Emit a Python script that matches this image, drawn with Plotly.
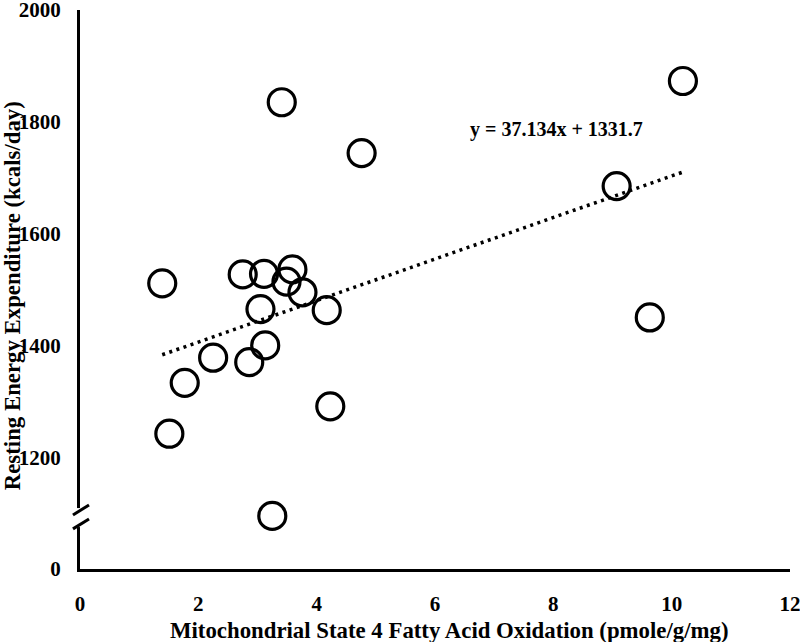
import plotly.graph_objects as go

# --- Data ---
fao = [1.39, 1.51, 1.77, 2.25, 2.75, 2.86, 3.05, 3.11, 3.13, 3.25,
       3.41, 3.49, 3.59, 3.76, 4.17, 4.23, 4.76, 9.07, 9.63, 10.19]
ree = [1511, 1242, 1333, 1378, 1527, 1370, 1465, 1528, 1400, 1095,
       1835, 1514, 1536, 1495, 1463, 1291, 1744, 1685, 1450, 1873]

slope, intercept = 37.134, 1331.7

x_ticks = [0, 2, 4, 6, 8, 10, 12]
y_tickvals = [1000, 1200, 1400, 1600, 1800, 2000]
y_ticktext = ["0", "1200", "1400", "1600", "1800", "2000"]

FONT = "Liberation Serif"

fig = go.Figure()

# trendline over the data range
x_fit = [min(fao), max(fao)]
y_fit = [slope * v + intercept for v in x_fit]
fig.add_trace(go.Scatter(
    x=x_fit, y=y_fit, mode="lines",
    line=dict(color="black", width=3.5, dash="3px,4.5px"),
    hoverinfo="skip", showlegend=False
))

fig.add_trace(go.Scatter(
    x=fao, y=ree, mode="markers",
    marker=dict(symbol="circle-open", size=27, color="black",
                line=dict(width=3.2, color="black")),
    showlegend=False
))

fig.add_annotation(
    x=8.06, y=1786, text=f"<b>y = {slope}x + {intercept}</b>",
    showarrow=False, font=dict(family=FONT, size=20, color="black")
)

# axis titles as annotations (exact placement)
fig.add_annotation(
    xref="paper", yref="paper", x=0.521, y=0, yshift=-61,
    text="<b>Mitochondrial State 4 Fatty Acid Oxidation (pmole/g/mg)</b>",
    showarrow=False, yanchor="middle",
    font=dict(family=FONT, size=22.8, color="black")
)
fig.add_annotation(
    xref="paper", yref="paper", x=0, xshift=-68, y=0.488,
    text="<b>Resting Energy Expenditure (kcals/day)</b>",
    textangle=-90, showarrow=False, xanchor="center",
    font=dict(family=FONT, size=22.8, color="black")
)

# --- axis break on y axis ---
fig.add_shape(type="rect", xref="paper", yref="y",
              x0=-0.012, x1=0.012, y0=1075, y1=1109,
              fillcolor="white", line=dict(width=0), layer="above")
for y0, y1 in [(1096.7, 1114.6), (1071.8, 1089.6)]:
    fig.add_shape(type="line", xref="paper", yref="y",
                  x0=-0.0099, x1=0.0127, y0=y0, y1=y1,
                  line=dict(color="black", width=3), layer="above")

tick_font = dict(family=FONT, size=21, color="black")

fig.update_layout(
    width=800, height=642,
    plot_bgcolor="white", paper_bgcolor="white",
    margin=dict(l=80, r=10, t=10, b=73),
    font=dict(family=FONT, color="black"),
    xaxis=dict(
        range=[0, 12], tickvals=x_ticks,
        ticktext=[f"<b>{v}</b>" for v in x_ticks],
        showgrid=False, zeroline=False, automargin=False,
        showline=True, linecolor="black", linewidth=3,
        ticks="", ticklabelstandoff=14, ticklabeloverflow="allow",
        tickfont=tick_font,
    ),
    yaxis=dict(
        range=[1000, 2000], tickvals=y_tickvals,
        ticktext=[f"<b>{t}</b>" for t in y_ticktext],
        showgrid=False, zeroline=False, automargin=False,
        showline=True, linecolor="black", linewidth=3,
        ticks="", ticklabelstandoff=12, ticklabeloverflow="allow",
        tickfont=tick_font,
    ),
)

fig.write_html("out.html", config={"displayModeBar": False},
               post_script="document.body.style.margin='0';")
